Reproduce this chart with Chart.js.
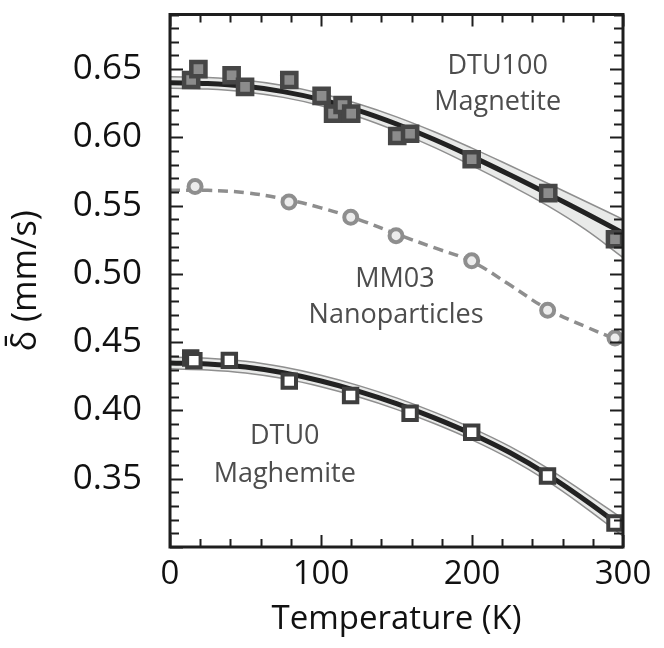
<!DOCTYPE html>
<html lang="en">
<head>
  <meta charset="UTF-8">
  <title>Isomer shift vs temperature</title>
  <script src="https://cdn.jsdelivr.net/npm/chart.js@4"></script>
  <style>
    html, body { margin: 0; padding: 0; background: #fff; }
    #wrap { width: 664px; height: 648px; }
  </style>
</head>
<body>
  <div id="wrap"><canvas id="grafico" width="664" height="648"></canvas></div>

  <script>
    // measured points
    const dtu100T = [14, 18.8, 40.8, 49.7, 79, 100.4, 108, 114.3, 120, 150.5, 159, 199.8, 250.5, 294.7];
    const dtu100Delta = [0.642, 0.650, 0.6455, 0.6370, 0.642, 0.6304, 0.6174, 0.6237, 0.6174, 0.601, 0.6027, 0.584, 0.5592, 0.5254];

    const mm03T = [16.6, 78.8, 119.7, 149.7, 199.8, 250.1, 294.7];
    const mm03Delta = [0.564, 0.5527, 0.5415, 0.528, 0.5096, 0.4734, 0.453];

    const dtu0T = [13.7, 15.8, 39.3, 79, 119.6, 159, 199.8, 250, 294.7];
    const dtu0Delta = [0.4384, 0.4365, 0.4367, 0.4215, 0.411, 0.398, 0.384, 0.352, 0.3176];

    const fitT = [0, 25, 50, 75, 100, 125, 150, 175, 200, 225, 250, 275, 300];
    const dtu100Fit   = [0.6400, 0.6394, 0.6374, 0.6335, 0.6276, 0.6196, 0.6098, 0.5985, 0.5859, 0.5726, 0.5588, 0.5446, 0.5300];
    const dtu100Upper = [0.6444, 0.6438, 0.6418, 0.6380, 0.6322, 0.6244, 0.6150, 0.6041, 0.5921, 0.5794, 0.5664, 0.5532, 0.5400];
    const dtu100Lower = [0.6360, 0.6354, 0.6333, 0.6293, 0.6232, 0.6149, 0.6046, 0.5927, 0.5793, 0.5651, 0.5500, 0.5326, 0.5120];

    const dtu0Fit   = [0.4348, 0.4340, 0.4318, 0.4276, 0.4216, 0.4140, 0.4050, 0.3946, 0.3828, 0.3692, 0.3530, 0.3342, 0.3140];
    const dtu0Upper = [0.4391, 0.4383, 0.4361, 0.4318, 0.4258, 0.4182, 0.4092, 0.3988, 0.3871, 0.3737, 0.3578, 0.3395, 0.3205];
    const dtu0Lower = [0.4305, 0.4297, 0.4275, 0.4234, 0.4174, 0.4098, 0.4008, 0.3904, 0.3785, 0.3647, 0.3482, 0.3289, 0.3080];

    const mm03Line = [0.5612, 0.5612, 0.5595, 0.5550, 0.5484, 0.5398, 0.5292, 0.5192, 0.5090, 0.4920, 0.4742, 0.4615, 0.4500];

    const xTicks = [0, 100, 200, 300];
    const yTicks = [0.35, 0.40, 0.45, 0.50, 0.55, 0.60, 0.65];

    const notas = [
      { texto: 'DTU100', x: 217, y: 0.6522 },
      { texto: 'Magnetite', x: 217, y: 0.6254 },
      { texto: 'MM03', x: 149, y: 0.4964 },
      { texto: 'Nanoparticles', x: 149.7, y: 0.4696 },
      { texto: 'DTU0', x: 76, y: 0.3812 },
      { texto: 'Maghemite', x: 76, y: 0.3536 }
    ];

    const pares = (xs, ys) => xs.map((x, i) => ({ x: x, y: ys[i] }));

    // frame with inward ticks on all four sides, plus the curve labels
    const moldura = {
      id: 'moldura',
      afterDatasetsDraw(chart) {
        const { ctx, chartArea: a } = chart;
        const sx = chart.scales.x, sy = chart.scales.y;
        ctx.save();
        ctx.strokeStyle = '#1e1e1e';
        ctx.lineWidth = 2;
        ctx.beginPath();
        for (let t = 0; t <= 300; t += 20) {
          const px = Math.round(sx.getPixelForValue(t)) + 0.5;
          const len = t % 100 === 0 ? 12 : 8;
          ctx.moveTo(px, a.bottom); ctx.lineTo(px, a.bottom - len);
          ctx.moveTo(px, a.top); ctx.lineTo(px, a.top + len);
        }
        for (let i = 30; i <= 69; i++) {
          const py = Math.round(sy.getPixelForValue(i / 100)) + 0.5;
          const len = i % 5 === 0 ? 13 : 9;
          ctx.moveTo(a.left, py); ctx.lineTo(a.left + len, py);
          ctx.moveTo(a.right, py); ctx.lineTo(a.right - len, py);
        }
        ctx.stroke();
        ctx.lineWidth = 3;
        ctx.strokeRect(a.left, a.top, a.right - a.left, a.bottom - a.top);

        ctx.fillStyle = '#4d4d4d';
        ctx.font = '27px "Open Sans"';
        ctx.textAlign = 'center';
        ctx.textBaseline = 'middle';
        notas.forEach(n => {
          ctx.fillText(n.texto, sx.getPixelForValue(n.x), sy.getPixelForValue(n.y));
        });
        ctx.restore();
      }
    };

    const linha = (rotulo, ys, cor, largura, ordem) => ({
      label: rotulo,
      data: pares(fitT, ys),
      borderColor: cor,
      borderWidth: largura,
      pointRadius: 0,
      tension: 0.4,
      fill: false,
      order: ordem
    });

    const ctx = document.getElementById('grafico').getContext('2d');
    new Chart(ctx, {
      type: 'line',
      data: {
        datasets: [
          {
            label: 'DTU100',
            data: pares(dtu100T, dtu100Delta),
            showLine: false,
            pointStyle: 'rect',
            pointRadius: 10,
            pointBorderWidth: 4.5,
            pointBackgroundColor: '#8c8c8c',
            pointBorderColor: '#464646',
            order: 0
          },
          {
            label: 'MM03',
            data: pares(mm03T, mm03Delta),
            showLine: false,
            pointStyle: 'circle',
            pointRadius: 6.5,
            pointBorderWidth: 4,
            pointBackgroundColor: '#ececec',
            pointBorderColor: '#8e8e8e',
            order: 0
          },
          {
            label: 'DTU0',
            data: pares(dtu0T, dtu0Delta),
            showLine: false,
            pointStyle: 'rect',
            pointRadius: 9.5,
            pointBorderWidth: 4,
            pointBackgroundColor: '#ffffff',
            pointBorderColor: '#3e3e3e',
            order: 0
          },
          linha('DTU100 fit', dtu100Fit, '#222222', 5, 1),
          linha('DTU0 fit', dtu0Fit, '#222222', 5, 1),
          Object.assign(linha('MM03 line', mm03Line, '#8e8e8e', 3.5, 1), { borderDash: [10, 6] }),
          linha('DTU100 upper', dtu100Upper, '#8f8f8f', 1.5, 3),
          Object.assign(linha('DTU100 lower', dtu100Lower, '#8f8f8f', 1.5, 3), { fill: '-1', backgroundColor: '#e9eae9' }),
          linha('DTU0 upper', dtu0Upper, '#8f8f8f', 1.5, 3),
          Object.assign(linha('DTU0 lower', dtu0Lower, '#8f8f8f', 1.5, 3), { fill: '-1', backgroundColor: '#e9eae9' })
        ]
      },
      options: {
        responsive: false,
        animation: false,
        devicePixelRatio: 1,
        layout: { padding: { top: 9, right: 41, left: 0, bottom: 0 } },
        plugins: {
          legend: { display: false },
          tooltip: { enabled: false }
        },
        scales: {
          x: {
            type: 'linear',
            min: 0,
            max: 300,
            afterBuildTicks: s => { s.ticks = xTicks.map(v => ({ value: v })); },
            afterFit: s => { s.height = 101; s.paddingLeft = 0; s.paddingRight = 0; },
            grid: { display: false },
            border: { display: false },
            ticks: {
              color: '#111',
              font: { family: 'Open Sans', size: 33 },
              padding: 0,
              maxRotation: 0
            },
            title: {
              display: true,
              text: 'Temperature (K)',
              color: '#111',
              font: { family: 'Open Sans', size: 33 },
              padding: { top: 0, bottom: 9 }
            }
          },
          y: {
            type: 'linear',
            min: 0.30,
            max: 0.69,
            afterBuildTicks: s => { s.ticks = yTicks.map(v => ({ value: v })); },
            afterFit: s => { s.width = 170; s.paddingTop = 0; s.paddingBottom = 0; },
            grid: { display: false },
            border: { display: false },
            ticks: {
              color: '#111',
              font: { family: 'Open Sans', size: 35 },
              padding: 20,
              callback: v => v.toFixed(2)
            },
            title: {
              display: true,
              text: 'δ̄ (mm/s)',
              color: '#111',
              font: { family: 'Open Sans', size: 34 },
              padding: { top: 6, bottom: 0 }
            }
          }
        }
      },
      plugins: [moldura]
    });
  </script>
</body>
</html>
